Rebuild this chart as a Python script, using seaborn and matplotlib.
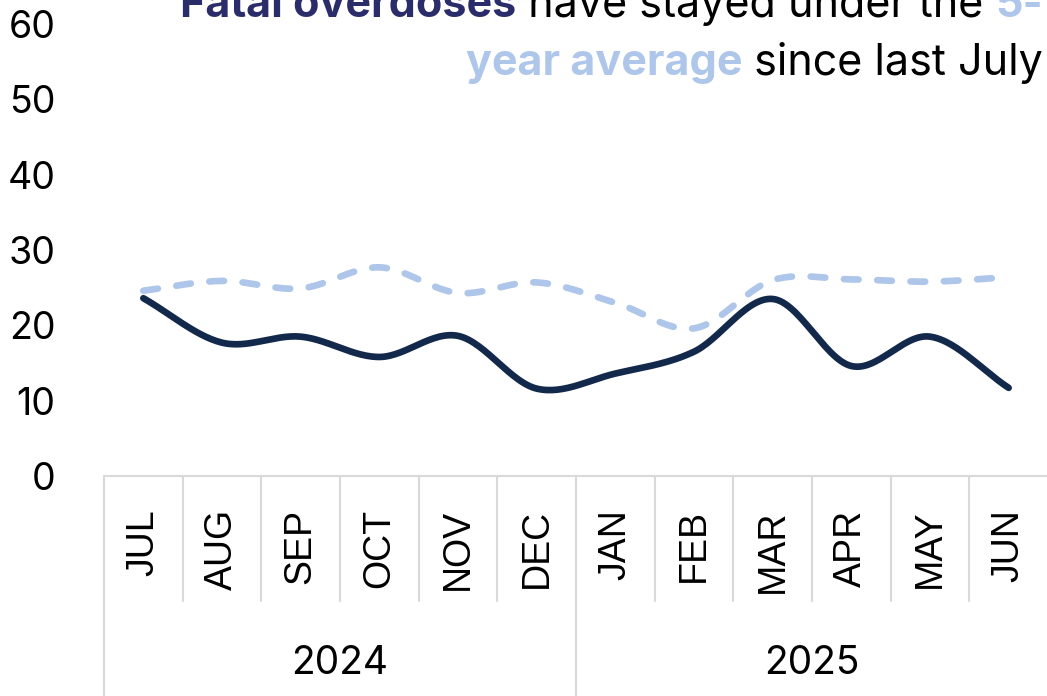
import matplotlib

matplotlib.use("Agg")
import matplotlib.pyplot as plt
import matplotlib.transforms as mtransforms
import numpy as np
import seaborn as sns

# ---- data ----
months = ["JUL", "AUG", "SEP", "OCT", "NOV", "DEC",
          "JAN", "FEB", "MAR", "APR", "MAY", "JUN"]
years = ["2024", "2025"]
months_per_year = [6, 6]
fatal_overdoses = [23.6, 17.7, 18.5, 15.8, 18.6, 11.6,
                   13.6, 16.5, 23.5, 14.6, 18.5, 11.7]
five_year_avg = [24.6, 25.9, 24.9, 27.7, 24.3, 25.7,
                 23.0, 19.6, 26.0, 26.1, 25.8, 26.4]
y_ticks = [0, 10, 20, 30, 40, 50, 60]

NAVY = "#13294B"
LIGHT_BLUE = "#AEC6EA"
TITLE_NAVY = "#2B2D6B"
SEP_GREY = "#D9D9D9"
MAIN_FONT = "Inter"
LABEL_FONT = "Liberation Sans"


def smooth(values, steps=30):
    """Catmull-Rom curve through every point (spreadsheet 'smoothed line')."""
    p = np.asarray(values, dtype=float)
    x = np.arange(len(p), dtype=float)
    px = np.concatenate([[2 * x[0] - x[1]], x, [2 * x[-1] - x[-2]]])
    py = np.concatenate([[2 * p[0] - p[1]], p, [2 * p[-1] - p[-2]]])
    t = np.linspace(0, 1, steps, endpoint=False)
    xs, ys = [], []
    for i in range(1, len(px) - 2):
        for arr, out in ((px, xs), (py, ys)):
            p0, p1, p2, p3 = arr[i - 1], arr[i], arr[i + 1], arr[i + 2]
            out.extend(0.5 * (2 * p1 + (-p0 + p2) * t
                              + (2 * p0 - 5 * p1 + 4 * p2 - p3) * t ** 2
                              + (-p0 + 3 * p1 - 3 * p2 + p3) * t ** 3))
    xs.append(x[-1])
    ys.append(p[-1])
    return np.array(xs), np.array(ys)


sns.set_theme(style="white")
plt.rcParams["font.family"] = [MAIN_FONT, "DejaVu Sans"]

fig = plt.figure(figsize=(10.47, 6.96), dpi=100)
ax = fig.add_axes([104 / 1047, 220 / 696, 944 / 1047, 452 / 696])

avg_x, avg_y = smooth(five_year_avg)
fat_x, fat_y = smooth(fatal_overdoses)
sns.lineplot(x=avg_x, y=avg_y, ax=ax, color=LIGHT_BLUE, lw=4.8,
             sort=False, estimator=None)
sns.lineplot(x=fat_x, y=fat_y, ax=ax, color=NAVY, lw=4.8,
             sort=False, estimator=None)
ax.lines[0].set_linestyle((0, (2.2, 2.8)))
ax.lines[0].set_dash_capstyle("round")
ax.lines[1].set_solid_capstyle("round")

ax.set_xlim(-0.5, len(months) - 0.5)
ax.set_ylim(0, 60)
ax.set_yticks(y_ticks)
ax.set_yticklabels([str(v) for v in y_ticks], fontsize=27, color="black")
ax.set_xticks(range(len(months)))
ax.set_xticklabels(months, rotation=90, fontsize=27, family=LABEL_FONT,
                   color="black")
ax.tick_params(axis="x", length=0, pad=24)
ax.tick_params(axis="y", length=0, pad=35)

for side in ("left", "right", "top"):
    ax.spines[side].set_visible(False)
ax.spines["bottom"].set_color(SEP_GREY)
ax.spines["bottom"].set_linewidth(1.5)

# category table under the axis
trans = mtransforms.blended_transform_factory(ax.transData, ax.transAxes)
month_depth = -125 / 452
year_depth = -222 / 452
bounds = np.cumsum([0] + months_per_year) - 0.5
for b in np.arange(-0.5, len(months)):
    depth = year_depth if np.any(np.isclose(bounds, b)) else month_depth
    ax.plot([b, b], [0, depth], transform=trans, color=SEP_GREY,
            lw=1.5, clip_on=False)
for yr, lo, hi in zip(years, bounds[:-1], bounds[1:]):
    ax.text((lo + hi) / 2, -187 / 452, yr, transform=trans, ha="center",
            va="center", fontsize=28, color="black")

# title, right aligned, multi-coloured (top line is cropped in the source)
line1 = [("Fatal overdoses", "bold", TITLE_NAVY),
         (" have stayed under the ", "normal", "black"),
         ("5-", "bold", LIGHT_BLUE)]
line2 = [("year average", "bold", LIGHT_BLUE),
         (" since last July", "normal", "black")]
for parts, y in ((line1, 1 - 17 / 696), (line2, 1 - 75 / 696)):
    prev = None
    for text, weight, color in reversed(parts):
        if prev is None:
            prev = fig.text(1043 / 1047, y, text, ha="right", va="baseline",
                            fontsize=31, fontweight=weight, color=color)
        else:
            prev = ax.annotate(text, xy=(0, 0), xycoords=prev, ha="right",
                               va="bottom", fontsize=31, fontweight=weight,
                               color=color, annotation_clip=False)

fig.savefig("out.png", dpi=100, facecolor="white")
plt.close(fig)
